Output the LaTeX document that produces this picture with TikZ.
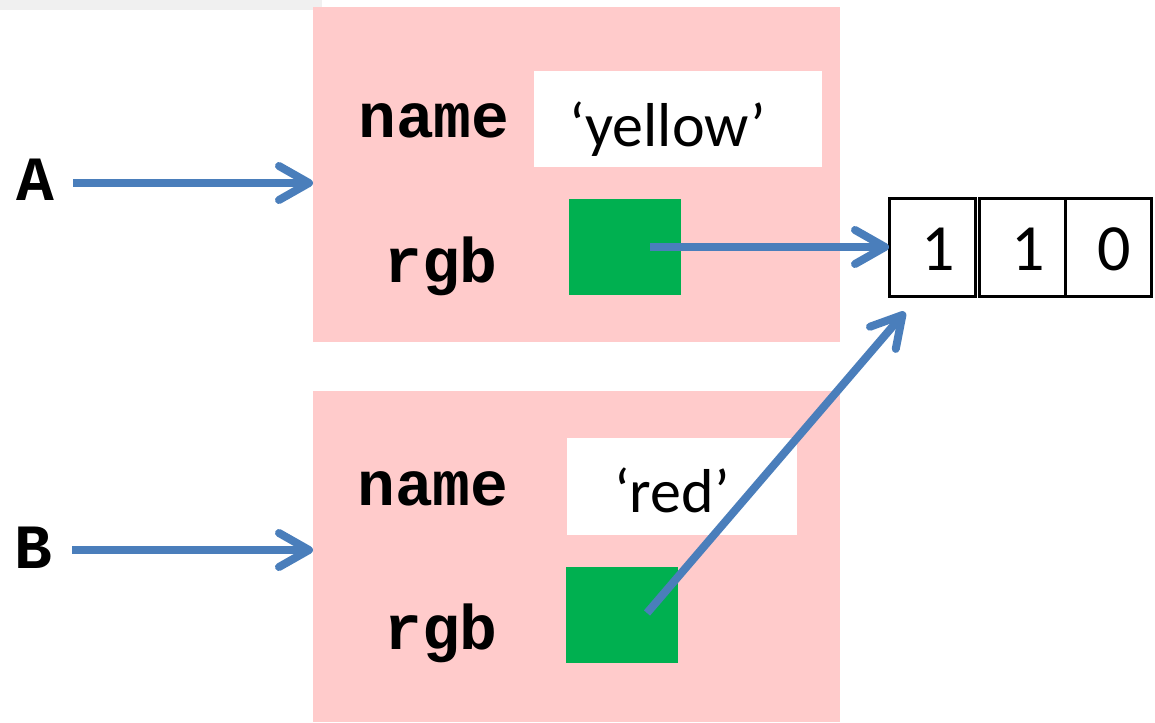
\documentclass[tikz,border=0pt]{standalone}
\usepackage{fontspec}
\setmonofont{Liberation Mono}
\newfontfamily\calfont{Carlito}
\usetikzlibrary{arrows.meta,fit}
\definecolor{pinkbg}{HTML}{FFCBCB}
\definecolor{greenfill}{HTML}{00B050}
\definecolor{arrowblue}{HTML}{4A7EBB}
\definecolor{stripgray}{HTML}{F0F0F0}
\tikzset{
  pinkbox/.style={fill=pinkbg, draw=none, inner sep=0pt, outer sep=0pt},
  valbox/.style={fill=white, draw=none, inner sep=0pt, outer sep=0pt},
  greenbox/.style={fill=greenfill, draw=none, inner sep=0pt, outer sep=0pt},
  cellbox/.style={draw=black, line width=1.5pt, fill=white, inner sep=0pt, outer sep=0pt},
  field/.style={font=\ttfamily\bfseries\fontsize{31.5}{36}\selectfont, anchor=base, inner sep=0pt},
  val/.style={font=\calfont\fontsize{31}{36}\selectfont, anchor=base, inner sep=0pt},
  digit/.style={font=\calfont\fontsize{33}{38}\selectfont, anchor=base, inner sep=0pt},
  ptr/.style={draw=arrowblue, line width=4pt, -{Straight Barb[length=15pt,width=17pt,round]}},
}
\begin{document}
\begin{tikzpicture}[x=0.5pt,y=-0.5pt]
\useasboundingbox (0,0) rectangle (1155,722);
\fill[stripgray] (0,0) rectangle (322,10);
% object A
\node[pinkbox, fit={(313,7) (840,342)}] (boxA) {};
\node[valbox, fit={(534,71) (822,167)}] (nameA) {};
\node[greenbox, fit={(569,199) (681,295)}] (rgbA) {};
\node[field] (lnameA) at (434,137) {name};
\node[field] (lrgbA) at (441,282) {rgb};
\node[val] (vnameA) at (668,147) {‘yellow’};
% object B
\node[pinkbox, fit={(313,391) (840,722)}] (boxB) {};
\node[valbox, fit={(567,438) (797,535)}] (nameB) {};
\node[greenbox, fit={(566,567) (678,663)}] (rgbB) {};
\node[field] (lnameB) at (433,505) {name};
\node[field] (lrgbB) at (441,649) {rgb};
\node[val] (vnameB) at (672,512) {‘red’};
% array
\node[cellbox, fit={(889,198) (975,296)}] (c1) {};
\node[cellbox, fit={(979,198) (1065,296)}] (c2) {};
\node[cellbox, fit={(1065,198) (1151,296)}] (c3) {};
\node[digit] (d1) at (938,270) {1};
\node[digit] (d2) at (1028,270) {1};
\node[digit] (d3) at (1114,270) {0};
% variables
\node[field] (A) at (35,200) {A};
\node[field] (B) at (33,568) {B};
\coordinate (a0) at (73,183);
\coordinate (b0) at (72,550);
\draw[ptr] (a0) -- (a0 -| boxA.west);
\draw[ptr] (b0) -- (b0 -| boxB.west);
\coordinate (ga) at (650,247);
\draw[ptr] (ga) -- (c1.west);
\coordinate (gb) at (647,613);
\coordinate (tipb) at (905,312);
\draw[ptr] (gb) -- (tipb);
\end{tikzpicture}
\end{document}
